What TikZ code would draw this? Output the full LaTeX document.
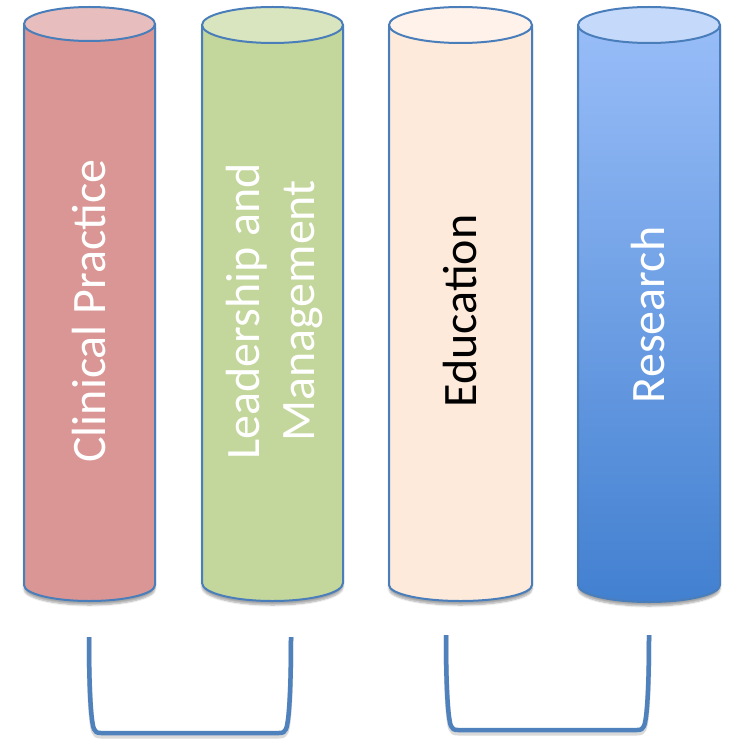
\documentclass[tikz,border=0pt]{standalone}
\usepackage{fontspec}
\setmainfont{Carlito}
\usetikzlibrary{shadows.blur}
\definecolor{outl}{HTML}{4A7EBB}
\definecolor{redbody}{HTML}{D99694}
\definecolor{redtop}{HTML}{E7BEBD}
\definecolor{grnbody}{HTML}{C3D69B}
\definecolor{grntop}{HTML}{D8E5BE}
\definecolor{peabody}{HTML}{FDEADA}
\definecolor{peatop}{HTML}{FEF2EA}
\definecolor{bluetopc}{HTML}{98BDF8}
\definecolor{bluebot}{HTML}{4280D0}
\definecolor{bluecap}{HTML}{C5DAFA}
\definecolor{brk}{HTML}{4F81BD}
\tikzset{
  outline/.style={draw=outl, line width=2pt},
  pillshadow/.style={blur shadow={shadow xshift=0pt, shadow yshift=-4pt, shadow blur steps=6, shadow opacity=35}},
  pillabel/.style={rotate=90, font=\fontsize{48}{55}\selectfont, align=center, inner sep=0pt},
  bracketline/.style={draw=brk, line width=4.5pt, line join=round},
  bracketshade/.style={draw=black, opacity=0.15, line width=5pt, line join=round, yshift=-3pt}
}
% #1 left x, #2 right x, #3 top y, #4 top ry, #5 bottom y, #6 bottom ry, #7 body style, #8 cap colour, #9 name
\newcommand{\mypillar}[9]{%
  \pgfmathsetmacro{\cx}{(#1+#2)/2}%
  \pgfmathsetmacro{\rx}{(#2-#1)/2}%
  \pgfmathsetmacro{\kx}{0.5523*\rx}%
  \pgfmathsetmacro{\ky}{0.5523*#6}%
  \path[#7, pillshadow] (#1,#3) -- (#1,#5)
     .. controls (#1,#5+\ky) and (\cx-\kx,#5+#6) .. (\cx,#5+#6)
     .. controls (\cx+\kx,#5+#6) and (#2,#5+\ky) .. (#2,#5)
     -- (#2,#3) -- cycle;
  \draw[outline] (#1,#3) -- (#1,#5)
     .. controls (#1,#5+\ky) and (\cx-\kx,#5+#6) .. (\cx,#5+#6)
     .. controls (\cx+\kx,#5+#6) and (#2,#5+\ky) .. (#2,#5)
     -- (#2,#3);
  \draw[outline, fill=#8] (\cx,#3) ellipse [x radius=\rx, y radius=#4];
  \coordinate (#9) at (\cx,311);
}
\newcommand{\bracketpath}[4]{% #1 left coord, #2 right coord, #3 left x, #4 right x ... uses fixed shape
}
\begin{document}
\begin{tikzpicture}[x=1pt,y=-1pt]
\useasboundingbox (0,0) rectangle (731,741);
\mypillar{24}{155}{24}{17}{585}{16}{fill=redbody}{redtop}{p1}
\mypillar{202}{343}{25}{18}{583}{18}{fill=grnbody}{grntop}{p2}
\mypillar{389}{532}{25}{18}{585}{16}{fill=peabody}{peatop}{p3}
\mypillar{578}{720}{25}{18}{585}{17}{top color=bluetopc, bottom color=bluebot}{bluecap}{p4}

\node[pillabel, text=white] (t1) at (p1) {Clinical Practice};
\node[pillabel, text=white] (t2) at ([xshift=2pt]p2) {Leadership and\\Management};
\node[pillabel, text=black] (t3) at (p3) {Education};
\node[pillabel, text=white] (t4) at ([xshift=-1pt, yshift=-4pt]p4) {Research};

% brackets
\coordinate (b1a) at (89,637);
\coordinate (b1b) at (291,637);
\coordinate (b2a) at (446,635);
\coordinate (b2b) at (649,635);
\foreach \st in {bracketshade, bracketline}{
\draw[\st] (b1a) .. controls (89,690) and (91,722) .. (94,729)
  .. controls (95,732) and (97,733) .. (101,733) -- (279,733)
  .. controls (283,733) and (285,732) .. (286,729)
  .. controls (289,722) and (291,690) .. (b1b);
\draw[\st] (b2a) .. controls (446,688) and (448,719) .. (451,726)
  .. controls (452,729) and (454,730) .. (458,730) -- (637,730)
  .. controls (641,730) and (643,729) .. (644,726)
  .. controls (647,719) and (649,688) .. (b2b);
}
\end{tikzpicture}
\end{document}
